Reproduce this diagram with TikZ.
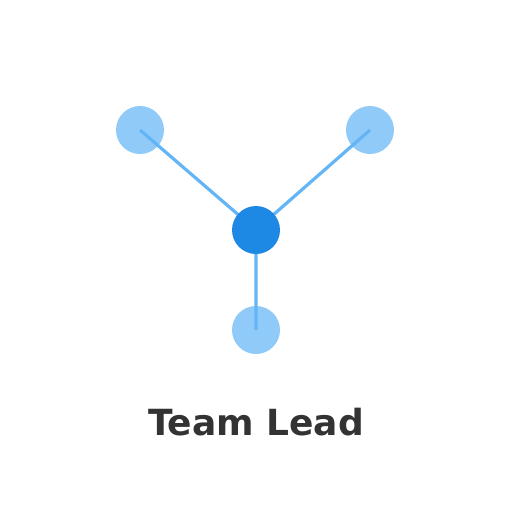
\documentclass[tikz,border=0pt]{standalone}
\usepackage{fontspec}
\setmainfont{DejaVu Sans}
\usetikzlibrary{positioning}
\definecolor{hubblue}{HTML}{1E88E5}
\definecolor{leafblue}{HTML}{90CAF9}
\definecolor{linkblue}{HTML}{64B5F6}
\definecolor{labelgray}{HTML}{333333}
\tikzset{
  member/.style={circle, fill=leafblue, minimum size=48pt, inner sep=0pt},
  lead/.style={circle, fill=hubblue, minimum size=48pt, inner sep=0pt},
  link/.style={draw=linkblue, line width=3.2pt}
}
\begin{document}
\begin{tikzpicture}[x=1pt,y=-1pt]
        \useasboundingbox (0,0) rectangle (512,512);
        % members
        \node[member] (left)   at (140,130) {};
        \node[member] (right)  at (370,130) {};
        \node[member] (bottom) at (256,330) {};

        % links to the lead
        \coordinate (hubc) at (256,230);
        \path[link]
        (hubc) -- (left.center)
        (hubc) -- (right.center)
        (hubc) -- (bottom.center);

        % lead
        \node[lead] (hub) at (hubc) {};

        % caption
        \node[anchor=base, text=labelgray, font=\bfseries\fontsize{36}{40}\selectfont] (title) at (256,435) {Team Lead};
\end{tikzpicture}
\end{document}
